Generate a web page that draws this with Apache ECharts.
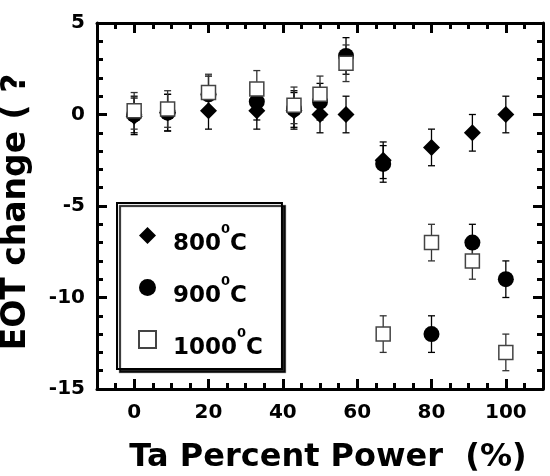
<!DOCTYPE html>
<html>
<head>
<meta charset="utf-8">
<script src="https://cdn.jsdelivr.net/npm/echarts@6/dist/echarts.min.js"></script>
<style>
  html, body { margin: 0; padding: 0; background: #fff; }
  #chart { width: 550px; height: 476px; }
</style>
</head>
<body>
<div id="chart"></div>
<script>
// Ta percent power (%)
const power = [0, 9, 20, 33, 43, 50, 57, 67, 80, 91, 100]

// EOT change for each anneal temperature
const eot800 = [-0.1, 0.1, 0.2, 0.2, 0.2, 0, 0, -2.5, -1.8, -1, 0]
const eot900 = [0, 0.1, 1.1, 0.7, 0.3, 0.7, 3.2, -2.7, -12, -7, -9]
const eot1000 = [0.2, 0.3, 1.2, 1.4, 0.5, 1.1, 2.8, -12, -7, -8, -13]

// error bar half-heights
const err800 = [1, 1, 1, 1, 1, 1, 1, 1, 1, 1, 1]
const err900 = [1, 1, 1, 1, 1, 1, 1, 1, 1, 1, 1]
const err1000 = [1, 1, 1, 1, 1, 1, 1, 1, 1, 1, 1]

const temps = ['800', '900', '1000']
const xTickLabels = [0, 20, 40, 60, 80, 100]

const boldFont = 'DejaVu Sans'

const chart = echarts.init(document.getElementById('chart'))

// vertical error bars with small caps
const errorBars = (vals, errs, color) => ({
  type: 'custom',
  silent: true,
  z: 1,
  xAxisIndex: 0,
  yAxisIndex: 0,
  data: power.map((x, i) => [x, vals[i] - errs[i], vals[i] + errs[i]]),
  encode: { x: 0, y: [1, 2] },
  renderItem: (params, api) => {
    const lo = api.coord([api.value(0), api.value(1)])
    const hi = api.coord([api.value(0), api.value(2)])
    const w = 3.5
    const style = { stroke: color, lineWidth: 1.3 }
    return {
      type: 'group',
      children: [
        { type: 'line', shape: { x1: lo[0], y1: lo[1], x2: hi[0], y2: hi[1] }, style },
        { type: 'line', shape: { x1: lo[0] - w, y1: lo[1], x2: lo[0] + w, y2: lo[1] }, style },
        { type: 'line', shape: { x1: hi[0] - w, y1: hi[1], x2: hi[0] + w, y2: hi[1] }, style }
      ]
    }
  }
})

const frameLine = { show: true, onZero: false, lineStyle: { color: '#000', width: 3 } }
const noLine = { show: false, onZero: false }

const xBase = {
  type: 'value',
  min: -10,
  max: 110,
  interval: 5,
  splitLine: { show: false }
}

const yBase = {
  type: 'value',
  min: -15,
  max: 5,
  interval: 5,
  splitLine: { show: false },
  minorSplitLine: { show: false }
}

const option = {
  backgroundColor: '#fff',
  animation: false,
  grid: {
    left: 97,
    right: 7,
    top: 23,
    bottom: 87,
    outerBoundsMode: 'none',
    containLabel: false
  },
  legend: {
    data: temps,
    orient: 'vertical',
    left: 117,
    top: 203,
    padding: [20, 19, 9, 21],
    itemGap: 19,
    itemWidth: 17,
    itemHeight: 17,
    backgroundColor: '#fff',
    borderColor: '#000',
    borderWidth: 2,
    borderRadius: 0,
    shadowColor: 'rgba(0, 0, 0, 0.85)',
    shadowBlur: 1,
    shadowOffsetX: 3,
    shadowOffsetY: 3,
    formatter: (name) => `{a|${name}}{s|0}{a|C}`,
    textStyle: {
      padding: [8, 0, 0, 12],
      rich: {
        a: {
          fontFamily: boldFont,
          fontWeight: 'bold',
          fontSize: 23,
          color: '#000',
          padding: [10, 0, 0, 0]
        },
        s: {
          fontFamily: boldFont,
          fontWeight: 'bold',
          fontSize: 13,
          color: '#000',
          verticalAlign: 'top'
        }
      }
    }
  },
  xAxis: [
    {
      ...xBase,
      position: 'bottom',
      axisLine: frameLine,
      axisTick: { inside: true, length: 10, lineStyle: { width: 3, color: '#000' }, customValues: xTickLabels },
      axisLabel: {
        customValues: xTickLabels,
        margin: 14,
        color: '#000',
        fontFamily: boldFont,
        fontWeight: 'bold',
        fontSize: 20
      },
      name: 'Ta Percent Power  (%)',
      nameLocation: 'middle',
      nameGap: 53,
      nameTextStyle: {
        color: '#000',
        fontFamily: boldFont,
        fontWeight: 'bold',
        fontSize: 32,
        padding: [0, 0, 0, 16]
      }
    },
    {
      ...xBase,
      position: 'bottom',
      axisLine: noLine,
      axisTick: { inside: true, length: 6, lineStyle: { width: 3, color: '#000' } },
      axisLabel: { show: false }
    },
    {
      ...xBase,
      position: 'top',
      axisLine: frameLine,
      axisTick: { inside: true, length: 10, lineStyle: { width: 3, color: '#000' }, customValues: xTickLabels },
      axisLabel: { show: false }
    },
    {
      ...xBase,
      position: 'top',
      axisLine: noLine,
      axisTick: { inside: true, length: 6, lineStyle: { width: 3, color: '#000' } },
      axisLabel: { show: false }
    }
  ],
  yAxis: [
    {
      ...yBase,
      position: 'left',
      axisLine: frameLine,
      axisTick: { inside: true, length: 10, lineStyle: { width: 3, color: '#000' } },
      minorTick: { show: true, splitNumber: 5, length: 6, lineStyle: { width: 3, color: '#000' } },
      axisLabel: {
        margin: 12,
        color: '#000',
        fontFamily: boldFont,
        fontWeight: 'bold',
        fontSize: 20
      },
      name: 'EOT change ( ?',
      nameLocation: 'middle',
      nameGap: 64,
      nameTextStyle: {
        color: '#000',
        fontFamily: boldFont,
        fontWeight: 'bold',
        fontSize: 33,
        padding: [0, 12, 0, 0]
      }
    },
    {
      ...yBase,
      position: 'right',
      axisLine: frameLine,
      axisTick: { inside: true, length: 10, lineStyle: { width: 3, color: '#000' } },
      minorTick: { show: true, splitNumber: 5, length: 6, lineStyle: { width: 3, color: '#000' } },
      axisLabel: { show: false }
    }
  ],
  series: [
    errorBars(eot800, err800, '#000'),
    errorBars(eot900, err900, '#000'),
    errorBars(eot1000, err1000, '#333'),
    {
      name: '800',
      type: 'scatter',
      z: 2,
      symbol: 'diamond',
      symbolSize: 17,
      itemStyle: { color: '#000', opacity: 1 },
      data: power.map((x, i) => [x, eot800[i]])
    },
    {
      name: '900',
      type: 'scatter',
      z: 2,
      symbol: 'circle',
      symbolSize: 16,
      itemStyle: { color: '#000', opacity: 1 },
      data: power.map((x, i) => [x, eot900[i]])
    },
    {
      name: '1000',
      type: 'scatter',
      z: 2,
      symbol: 'rect',
      symbolSize: 14,
      itemStyle: { color: '#fff', borderColor: '#444', borderWidth: 1.5, opacity: 1 },
      data: power.map((x, i) => [x, eot1000[i]])
    }
  ]
}

chart.setOption(option)
</script>
</body>
</html>
